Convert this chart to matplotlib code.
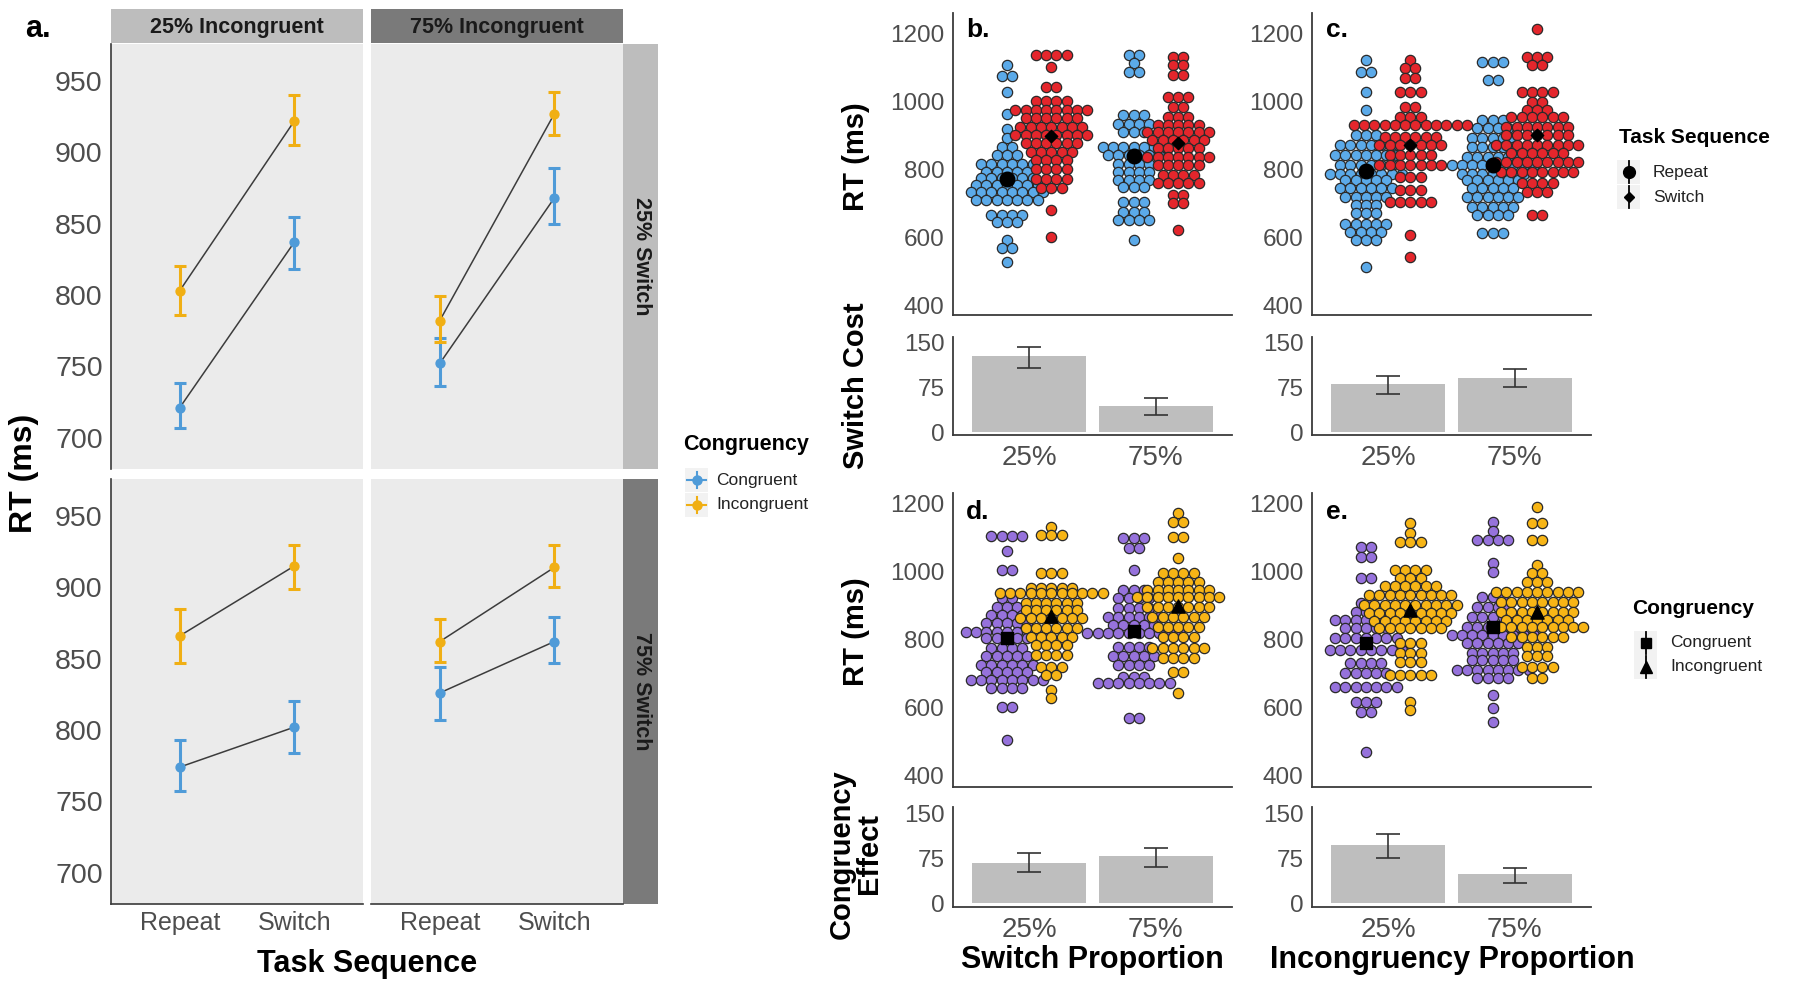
import numpy as np
import matplotlib
matplotlib.use('Agg')
import matplotlib.pyplot as plt
from matplotlib import font_manager
from matplotlib.patches import Rectangle


def pick(cands):
    for f in cands:
        try:
            font_manager.findfont(f, fallback_to_default=False)
            return f
        except Exception:
            pass
    return 'DejaVu Sans'


FONT = pick(['Liberation Sans', 'Arial', 'DejaVu Sans'])
plt.rcParams['font.family'] = [FONT, 'DejaVu Sans']

# ---------------- DATA ----------------
# Panel a: index [switch-proportion row][incongruent-proportion col][Repeat, Switch]
seq_labels = ['Repeat', 'Switch']
incong_strip = ['25% Incongruent', '75% Incongruent']
switch_strip = ['25% Switch', '75% Switch']
cong_mean = [[[721, 837], [752, 868]], [[774, 802], [826, 862]]]
cong_lo = [[[707, 818], [736, 850]], [[757, 784], [807, 847]]]
cong_hi = [[[738, 855], [770, 889]], [[793, 820], [844, 879]]]
inc_mean = [[[803, 922], [782, 927]], [[866, 915], [862, 914]]]
inc_lo = [[[786, 905], [767, 912]], [[847, 899], [848, 900]]]
inc_hi = [[[820, 940], [799, 942]], [[885, 930], [878, 930]]]

prop_labels = ['25%', '75%']

# Dot plots: rows of (RT bin, number of participants)
# b: by switch proportion, repeat (blue) / switch (red)
b_rep_25 = [(1106, 1), (1075, 2), (1027, 1), (963, 1), (918, 1), (890, 1), (865, 2), (841, 3),
            (816, 6), (792, 5), (773, 6), (753, 7), (733, 8), (708, 7), (665, 4), (645, 3),
            (591, 1), (567, 2), (527, 1)]
b_sw_25 = [(1135, 4), (1099, 1), (1040, 2), (1001, 4), (974, 8), (950, 6), (925, 7), (900, 8),
           (876, 6), (851, 5), (827, 4), (800, 4), (772, 4), (745, 3), (679, 1), (601, 1)]
b_rep_75 = [(1135, 2), (1111, 1), (1086, 2), (959, 3), (934, 4), (910, 3), (866, 7), (841, 6),
            (816, 4), (792, 4), (768, 4), (748, 3), (704, 3), (675, 3), (650, 4), (591, 1)]
b_sw_75 = [(1130, 2), (1106, 2), (1076, 2), (1013, 3), (983, 2), (954, 3), (929, 5), (910, 7),
           (886, 6), (862, 5), (836, 7), (812, 5), (782, 4), (758, 5), (723, 2), (699, 2), (621, 1)]
# c: by incongruency proportion, repeat (blue) / switch (red)
c_rep_25 = [(1121, 1), (1086, 2), (1027, 1), (974, 1), (900, 3), (871, 6), (841, 7), (812, 6),
            (787, 8), (768, 5), (743, 6), (719, 5), (694, 3), (670, 3), (640, 5), (616, 4),
            (591, 3), (513, 1)]
c_sw_25 = [(1121, 1), (1096, 2), (1067, 2), (1027, 3), (983, 2), (954, 3), (929, 12), (895, 6),
           (871, 7), (841, 5), (812, 7), (777, 3), (738, 3), (704, 5), (606, 1), (542, 1)]
c_rep_75 = [(1116, 3), (1062, 2), (944, 3), (920, 4), (890, 5), (866, 5), (836, 6), (812, 9),
            (787, 7), (768, 6), (743, 5), (719, 6), (689, 5), (665, 4), (611, 3)]
c_sw_75 = [(1211, 1), (1130, 3), (1106, 2), (1027, 4), (998, 2), (974, 3), (954, 6), (925, 7),
           (900, 7), (871, 9), (846, 6), (822, 9), (792, 8), (758, 4), (733, 3), (665, 2)]
# d: by switch proportion, congruent (purple) / incongruent (orange)
d_con_25 = [(1104, 4), (1058, 1), (1004, 2), (920, 2), (896, 3), (871, 4), (847, 5), (822, 9),
            (803, 5), (773, 4), (749, 5), (724, 6), (704, 5), (680, 8), (655, 4), (601, 2), (503, 1)]
d_inc_25 = [(1131, 1), (1107, 3), (994, 3), (950, 5), (935, 11), (906, 6), (886, 6), (861, 7),
            (832, 6), (807, 5), (783, 4), (753, 4), (719, 3), (695, 2), (650, 1), (626, 1)]
d_con_75 = [(1097, 3), (1068, 2), (1004, 1), (945, 3), (920, 4), (891, 4), (866, 6), (842, 5),
            (817, 10), (778, 4), (749, 5), (724, 4), (690, 3), (670, 8), (567, 2)]
d_inc_75 = [(1171, 1), (1146, 2), (1102, 2), (1038, 1), (994, 4), (969, 5), (945, 7), (925, 9),
            (896, 7), (866, 6), (837, 5), (807, 4), (773, 6), (744, 4), (704, 2), (641, 1)]
# e: by incongruency proportion, congruent (purple) / incongruent (orange)
e_con_25 = [(1072, 2), (1043, 2), (979, 2), (906, 2), (881, 3), (857, 7), (832, 5), (803, 7),
            (768, 8), (729, 4), (699, 5), (660, 7), (616, 3), (587, 2), (469, 1)]
e_inc_25 = [(1141, 1), (1112, 1), (1087, 3), (1004, 4), (979, 3), (955, 6), (930, 9), (901, 10),
            (876, 9), (852, 8), (832, 7), (788, 3), (758, 3), (734, 3), (695, 5), (616, 1), (592, 1)]
e_con_75 = [(1146, 1), (1117, 1), (1092, 4), (1023, 1), (999, 1), (925, 3), (896, 4), (866, 5),
            (837, 6), (812, 9), (788, 6), (758, 5), (739, 5), (709, 8), (685, 4), (636, 1),
            (596, 1), (557, 1)]
e_inc_75 = [(1190, 1), (1141, 2), (1092, 2), (1018, 1), (994, 2), (969, 3), (940, 9), (910, 8),
            (881, 8), (857, 7), (837, 10), (807, 6), (778, 3), (749, 3), (719, 4), (685, 2)]

# Group means (black markers)
b_rep_mean = [770, 838]
b_sw_mean = [897, 878]
c_rep_mean = [795, 812]
c_sw_mean = [872, 901]
d_con_mean = [803, 824]
d_inc_mean = [868, 899]
e_con_mean = [789, 836]
e_inc_mean = [887, 881]

# Bars: switch cost / congruency effect with error bars
b_cost = [128, 44]; b_cost_lo = [108, 29]; b_cost_hi = [144, 57]
c_cost = [81, 91]; c_cost_lo = [64, 75]; c_cost_hi = [95, 106]
d_eff = [67, 78]; d_eff_lo = [51, 60]; d_eff_hi = [83, 92]
e_eff = [96, 48]; e_eff_lo = [75, 34]; e_eff_hi = [115, 59]

# ---------------- STYLE ----------------
W, H = 1800, 991
fig = plt.figure(figsize=(W / 100, H / 100), dpi=100)
fig.patch.set_facecolor('white')

TICK_C = '#4D4D4D'
SPINE_C = '#3A3A3A'
A_BLUE = '#4F9BD8'
A_GOLD = '#F0AF14'
BLUE = '#5BAAE9'
RED = '#E4262C'
PURPLE = '#9672DC'
ORANGE = '#F7B516'
BAR_C = '#BEBEBE'
STRIP_L = '#BDBDBD'
STRIP_D = '#7A7A7A'


def add_ax(l, t, r, b, **kw):
    return fig.add_axes([l / W, 1 - b / H, (r - l) / W, (b - t) / H], **kw)


def ftext(x, y, s, **kw):
    fig.text(x / W, 1 - y / H, s, **kw)


ov = fig.add_axes([0, 0, 1, 1], zorder=-5)
ov.set_xlim(0, W)
ov.set_ylim(H, 0)
ov.axis('off')

# ---------------- PANEL a ----------------
a_cols = [(111, 363), (371, 623)]
a_rows = [(44, 469), (479, 904)]
xpos = [1, 2]
for ri in range(2):
    for ci in range(2):
        l, r = a_cols[ci]
        t, b = a_rows[ri]
        ax = add_ax(l, t, r, b)
        ax.set_facecolor('#EBEBEB')
        ax.set_xlim(0.4, 2.6)
        ax.set_ylim(678, 976)
        for m, lo, hi, col in [(cong_mean, cong_lo, cong_hi, A_BLUE),
                               (inc_mean, inc_lo, inc_hi, A_GOLD)]:
            mv = np.array(m[ri][ci], float)
            lov = np.array(lo[ri][ci], float)
            hiv = np.array(hi[ri][ci], float)
            ax.plot(xpos, mv, color='#3C3C3C', lw=1.1, zorder=2)
            ax.errorbar(xpos, mv, yerr=[mv - lov, hiv - mv], fmt='none', ecolor=col,
                        elinewidth=2.2, capsize=4, capthick=2.2, zorder=3)
            ax.scatter(xpos, mv, s=55, color=col, zorder=4, linewidths=0)
        for s in ax.spines.values():
            s.set_visible(False)
        ax.tick_params(length=0, pad=6, labelsize=20.5, labelcolor=TICK_C)
        if ci == 0:
            ax.spines['left'].set_visible(True)
            ax.spines['left'].set_color(SPINE_C)
            ax.spines['left'].set_linewidth(1.2)
            ax.set_yticks([700, 750, 800, 850, 900, 950])
        else:
            ax.set_yticks([])
        if ri == 1:
            ax.spines['bottom'].set_visible(True)
            ax.spines['bottom'].set_color(SPINE_C)
            ax.spines['bottom'].set_linewidth(1.2)
            ax.set_xticks(xpos)
            ax.set_xticklabels(seq_labels, fontsize=18)
            ax.tick_params(axis='x', pad=5)
        else:
            ax.set_xticks([])

# strips
for ci in range(2):
    l, r = a_cols[ci]
    ov.add_patch(Rectangle((l, 9), r - l, 34, facecolor=[STRIP_L, STRIP_D][ci], edgecolor='none'))
    ftext((l + r) / 2, 27, incong_strip[ci], ha='center', va='center', fontsize=15.5,
          fontweight='bold', color='#1A1A1A')
for ri in range(2):
    t, b = a_rows[ri]
    ov.add_patch(Rectangle((623, t), 35, b - t, facecolor=[STRIP_L, STRIP_D][ri], edgecolor='none'))
    ftext(641, (t + b) / 2, switch_strip[ri], ha='center', va='center', fontsize=15.5,
          fontweight='bold', color='#1A1A1A', rotation=-90)

ftext(38, 29, 'a.', ha='center', va='center', fontsize=22, fontweight='bold')
ftext(24, 473, 'RT (ms)', ha='center', va='center', fontsize=23, fontweight='bold', rotation=90)
ftext(367, 964, 'Task Sequence', ha='center', va='center', fontsize=22, fontweight='bold')

# legend a
ftext(683, 445, 'Congruency', ha='left', va='center', fontsize=15.5, fontweight='bold')
for yy, col, lab in [(480, A_BLUE, 'Congruent'), (505, A_GOLD, 'Incongruent')]:
    ov.add_patch(Rectangle((685, yy - 12), 23, 24, facecolor='#F2F2F2', edgecolor='none'))
    ov.plot([687, 706], [yy, yy], color=col, lw=1.5)
    ov.plot([696.5, 696.5], [yy - 8, yy + 8], color=col, lw=1.5)
    ov.plot([696.5], [yy], marker='o', ms=6.5, color=col)
    ftext(716, yy, lab, ha='left', va='center', fontsize=12.5, color='#222222')

# ---------------- PANELS b-e ----------------
XL = (0.4, 2.6)
DOT_PX = 10.3
AX_W = 279.0
UX = (XL[1] - XL[0]) / AX_W
DODGE = 0.175


def style_right(ax):
    for k in ['top', 'right']:
        ax.spines[k].set_visible(False)
    for k in ['left', 'bottom']:
        ax.spines[k].set_color(SPINE_C)
        ax.spines[k].set_linewidth(1.3)
    ax.tick_params(length=0, pad=6, labelsize=17.5, labelcolor=TICK_C)


def draw_dots(ax, rows, xc, color, z):
    xs, ys = [], []
    for rt, n in rows:
        for i in range(n):
            xs.append(xc + (i - (n - 1) / 2) * DOT_PX * UX)
            ys.append(rt)
    ax.scatter(xs, ys, s=(DOT_PX * 0.72) ** 2, color=color, edgecolors='#2A2A2A',
               linewidths=0.9, zorder=z)


def dot_panel(l, t, r, b, ylim, g1, g2, m1, m2, c1, c2, mk1, mk2, s1, s2, label):
    ax = add_ax(l, t, r, b)
    ax.set_xlim(*XL)
    ax.set_ylim(*ylim)
    for k in range(2):
        draw_dots(ax, g1[k], k + 1 - DODGE, c1, 2)
    for k in range(2):
        draw_dots(ax, g2[k], k + 1 + DODGE, c2, 3)
    ax.scatter([1 - DODGE, 2 - DODGE], m1, marker=mk1, s=s1, color='black', zorder=5)
    ax.scatter([1 + DODGE, 2 + DODGE], m2, marker=mk2, s=s2, color='black', zorder=5)
    style_right(ax)
    ax.set_xticks([])
    ax.set_yticks([400, 600, 800, 1000, 1200])
    ax.text(0.09, 0.985 if t < 100 else 0.975, label, transform=ax.transAxes, ha='center',
            va='top', fontsize=19, fontweight='bold')
    return ax


def bar_panel(l, t, r, b, ylim, vals, lo, hi):
    ax = add_ax(l, t, r, b)
    ax.set_xlim(*XL)
    ax.set_ylim(*ylim)
    v = np.array(vals, float)
    ax.bar([1, 2], v, width=0.9, color=BAR_C, zorder=2)
    ax.errorbar([1, 2], v, yerr=[v - np.array(lo), np.array(hi) - v], fmt='none',
                ecolor='#333333', elinewidth=1.2, capsize=8.5, capthick=1.2, zorder=3)
    style_right(ax)
    ax.set_yticks([0, 75, 150])
    ax.set_xticks([1, 2])
    ax.set_xticklabels(prop_labels, fontsize=20)
    ax.tick_params(axis='x', pad=7)
    return ax


dot_panel(953, 13, 1232, 315, (371, 1259), [b_rep_25, b_rep_75], [b_sw_25, b_sw_75],
          b_rep_mean, b_sw_mean, BLUE, RED, 'o', 'D', 110, 40, 'b.')
dot_panel(1312, 13, 1591, 315, (371, 1259), [c_rep_25, c_rep_75], [c_sw_25, c_sw_75],
          c_rep_mean, c_sw_mean, BLUE, RED, 'o', 'D', 110, 40, 'c.')
dot_panel(953, 493, 1232, 787, (365, 1230), [d_con_25, d_con_75], [d_inc_25, d_inc_75],
          d_con_mean, d_inc_mean, PURPLE, ORANGE, 's', '^', 70, 90, 'd.')
dot_panel(1312, 493, 1591, 787, (365, 1230), [e_con_25, e_con_75], [e_inc_25, e_inc_75],
          e_con_mean, e_inc_mean, PURPLE, ORANGE, 's', '^', 70, 90, 'e.')

bar_panel(953, 337, 1232, 435, (-5, 160), b_cost, b_cost_lo, b_cost_hi)
bar_panel(1312, 337, 1591, 435, (-5, 160), c_cost, c_cost_lo, c_cost_hi)
bar_panel(953, 807, 1232, 907, (-6.5, 160), d_eff, d_eff_lo, d_eff_hi)
bar_panel(1312, 807, 1591, 907, (-6.5, 160), e_eff, e_eff_lo, e_eff_hi)

ftext(856, 157, 'RT (ms)', ha='center', va='center', fontsize=21, fontweight='bold', rotation=90)
ftext(856, 386, 'Switch Cost', ha='center', va='center', fontsize=21, fontweight='bold', rotation=90)
ftext(856, 632, 'RT (ms)', ha='center', va='center', fontsize=21, fontweight='bold', rotation=90)
ftext(842, 854, 'Congruency', ha='center', va='center', fontsize=21, fontweight='bold', rotation=90)
ftext(869, 854, 'Effect', ha='center', va='center', fontsize=21, fontweight='bold', rotation=90)
ftext(1092, 960, 'Switch Proportion', ha='center', va='center', fontsize=22, fontweight='bold')
ftext(1452, 960, 'Incongruency Proportion', ha='center', va='center', fontsize=22, fontweight='bold')

# right legends
ftext(1619, 138, 'Task Sequence', ha='left', va='center', fontsize=15, fontweight='bold')
for yy, mk, ms, lab in [(172, 'o', 8.5, 'Repeat'), (197, 'D', 5.5, 'Switch')]:
    ov.add_patch(Rectangle((1617, yy - 12), 23, 24, facecolor='#F2F2F2', edgecolor='none'))
    ov.plot([1628.5, 1628.5], [yy - 11, yy + 11], color='black', lw=1.3)
    ov.plot([1628.5], [yy], marker=mk, ms=ms, color='black')
    ftext(1653, yy, lab, ha='left', va='center', fontsize=12.5, color='#222222')

ftext(1632, 608, 'Congruency', ha='left', va='center', fontsize=15, fontweight='bold')
for yy, mk, ms, lab in [(643, 's', 7.5, 'Congruent'), (667, '^', 8.5, 'Incongruent')]:
    ov.add_patch(Rectangle((1634, yy - 12), 23, 24, facecolor='#F2F2F2', edgecolor='none'))
    ov.plot([1645.5, 1645.5], [yy - 11, yy + 11], color='black', lw=1.3)
    ov.plot([1645.5], [yy], marker=mk, ms=ms, color='black')
    ftext(1670, yy, lab, ha='left', va='center', fontsize=12.5, color='#222222')

fig.savefig('out.png', dpi=100, facecolor='white')
